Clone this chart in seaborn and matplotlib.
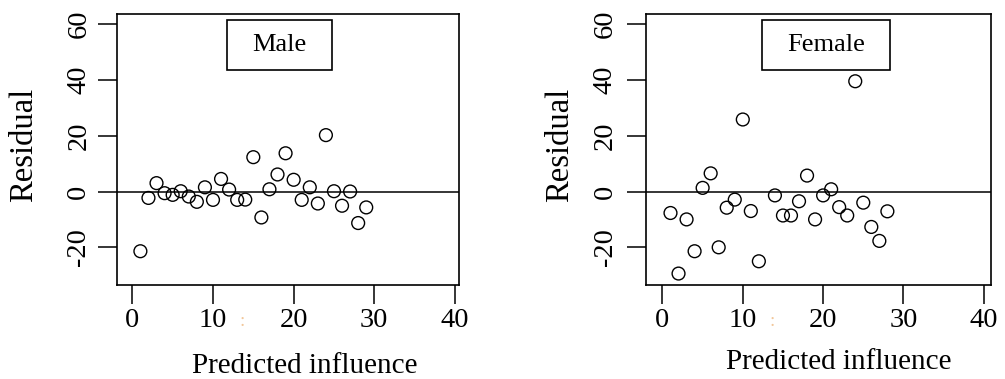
import matplotlib
matplotlib.use("Agg")
import matplotlib.pyplot as plt
from matplotlib.patches import Rectangle
import seaborn as sns

# residuals
male_x = [1, 2, 3, 4, 5, 6, 7, 8, 9, 10, 11, 12, 13, 14, 15, 16, 17, 18, 19, 20,
          21, 22, 23, 24, 25, 26, 27, 28, 29]
male_y = [-21.4, -2.3, 3.0, -0.6, -1.2, 0.1, -1.8, -3.7, 1.5, -3.0, 4.5, 0.7, -3.0,
          -2.9, 12.3, -9.3, 0.8, 6.1, 13.7, 4.2, -3.0, 1.5, -4.3, 20.2, 0.1, -5.1,
          0.0, -11.3, -5.7]

female_x = [1, 2, 3, 4, 5, 6, 7, 8, 9, 10, 11, 12, 14, 15, 16, 17, 18, 19, 20, 21,
            22, 23, 24, 25, 26, 27, 28]
female_y = [-7.7, -29.4, -10.0, -21.4, 1.3, 6.5, -20.0, -5.8, -2.9, 25.8, -7.0, -25.0,
            -1.4, -8.6, -8.6, -3.5, 5.7, -10.0, -1.4, 0.8, -5.6, -8.6, 39.5, -4.0,
            -12.7, -17.7, -7.1]

panel_names = ["Male", "Female"]
x_ticks = [0, 10, 20, 30, 40]
y_ticks = [-20, 0, 20, 40, 60]
x_label = "Predicted influence"
y_label = "Residual"

sns.set_style("white")
plt.rcParams["font.family"] = ["Liberation Serif", "DejaVu Serif"]

fig = plt.figure(figsize=(10.05, 3.79), dpi=100)
W, H = 1005, 379

# axes boxes in pixels: left, right, top, bottom
boxes = [(117, 459, 14, 285), (646, 991, 14, 285)]
xlims = [(-1.9, 40.5), (-2.05, 40.9)]
legend_boxes = [(227, 332), (762, 890)]
ylabel_x = [24, 560]
xlabel_pos = [(305, 373), (839, 369)]
colon_x = [242, 772]

datasets = [(male_x, male_y), (female_x, female_y)]

for i, (xs, ys) in enumerate(datasets):
    l, r, t, b = boxes[i]
    ax = fig.add_axes([l / W, 1 - b / H, (r - l) / W, (b - t) / H])

    ax.axhline(0, color="black", lw=1.1, zorder=1)
    sns.scatterplot(x=xs, y=ys, ax=ax, marker="o", s=85, color="black",
                    facecolor="none", edgecolor="black", linewidth=1.0, zorder=3)

    ax.set_xlim(*xlims[i])
    ax.set_ylim(-33.5, 63.6)
    ax.set_xticks(x_ticks)
    ax.set_yticks(y_ticks)
    ax.set_xticklabels([str(v) for v in x_ticks])
    ax.set_yticklabels([str(v) for v in y_ticks])
    ax.tick_params(axis="both", direction="out", length=13.5, width=1.1,
                   color="black", labelsize=20.5, labelcolor="black",
                   bottom=True, left=True, top=False, right=False)
    ax.tick_params(axis="x", pad=3)
    ax.tick_params(axis="y", pad=5 if i == 0 else 7, labelrotation=90)
    for lab in ax.get_yticklabels():
        lab.set_va("center")
    for sp in ax.spines.values():
        sp.set_visible(True)
        sp.set_color("black")
        sp.set_linewidth(1.2)
    ax.set_xlabel("")
    ax.set_ylabel("")

    # legend-like box with the group name
    bx0, bx1 = legend_boxes[i]
    fx0 = (bx0 - l) / (r - l)
    fx1 = (bx1 - l) / (r - l)
    fy0 = (b - 70) / (b - t)
    fy1 = (b - 20) / (b - t)
    ax.add_patch(Rectangle((fx0, fy0), fx1 - fx0, fy1 - fy0, transform=ax.transAxes,
                           fill=False, edgecolor="black", lw=1.2, zorder=4))
    ax.text((fx0 + fx1) / 2, (fy0 + fy1) / 2, panel_names[i], transform=ax.transAxes,
            ha="center", va="center", fontsize=19, color="black", zorder=5)

    fig.text(ylabel_x[i] / W, 1 - 145 / H, y_label, rotation=90, ha="center",
             va="center", fontsize=23.5, color="black")
    fig.text(xlabel_pos[i][0] / W, 1 - xlabel_pos[i][1] / H, x_label, ha="center",
             va="baseline", fontsize=21, color="black")
    # faint stray mark next to the "10" tick label
    fig.text(colon_x[i] / W, 1 - 321 / H, ":", ha="center", va="center",
             fontsize=14, color="#f2c79a")

fig.savefig("out.png", dpi=100)
